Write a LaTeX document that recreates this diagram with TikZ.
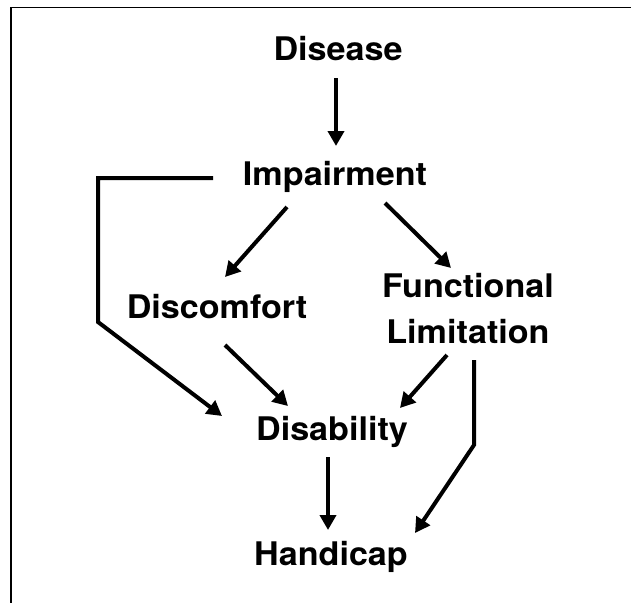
\documentclass[tikz,border=0pt]{standalone}
\usepackage{fontspec}
\setmainfont{TeX Gyre Heros}[FakeStretch=1.05]
\usetikzlibrary{arrows.meta,calc}

\begin{document}
\begin{tikzpicture}[x=1pt, y=-1pt,
    rotulo/.style={font=\bfseries\fontsize{32.5}{38}\selectfont, inner sep=0pt, anchor=base},
    seta/.style={line width=4pt, -{Triangle[length=15pt, width=16pt]}}]
    \useasboundingbox (0,0) rectangle (631,602);
    % moldura cortada
    \draw[line width=1.5pt] (11,610) -- (11,7.5) -- (640,7.5);
    % rótulos
    \node[rotulo] (dis) at (338,60) {Disease};
    \node[rotulo] (imp) at (335,185) {Impairment};
    \node[rotulo] (dcf) at (217,318) {Discomfort};
    \node[rotulo] (fun) at (468,297) {Functional};
    \node[rotulo] (lim) at (468,343) {Limitation};
    \node[rotulo] (dsb) at (332,440) {Disability};
    \node[rotulo] (hnd) at (331,565) {Handicap};
    % setas
    \draw[seta] ($(dis.base)+(-2,18)$) -- ($(imp.base)+(1,-39)$);
    \draw[seta] ($(imp.base)+(-48,22)$) -- ($(dcf.base)+(8,-41)$);
    \draw[seta] ($(imp.base)+(50,18)$) -- ($(fun.base)+(-17,-29)$);
    \draw[seta, line join=miter] ($(imp.base)+(-122,-7)$) -- ++(-115,0) -- ++(0,144)
      -- ($(dsb.base)+(-110,-24)$);
    \draw[seta] ($(dcf.base)+(8,27)$) -- ($(dsb.base)+(-44,-34)$);
    \draw[seta] ($(lim.base)+(-21,12)$) -- ($(dsb.base)+(68,-32)$);
    \draw[seta, line join=miter] ($(lim.base)+(6,17)$) -- ++(0,85) -- ($(hnd.base)+(84,-32)$);
    \draw[seta] ($(dsb.base)+(-4,17)$) -- ($(hnd.base)+(-3,-35)$);
\end{tikzpicture}
\end{document}
